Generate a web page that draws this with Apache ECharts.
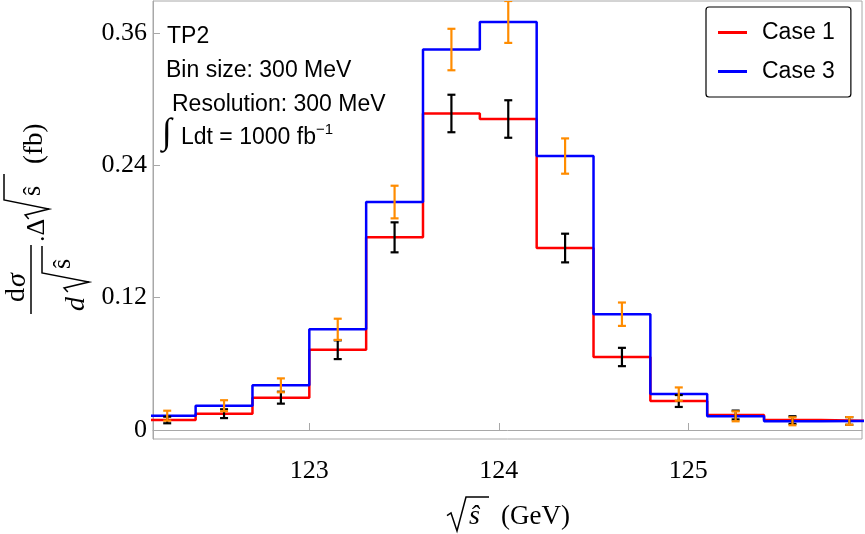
<!DOCTYPE html>
<html lang="en">
<head>
    <meta charset="UTF-8">
    <title>TP2 sqrt(s) distribution</title>
</head>
<body style="margin:0">
<div id="main" style="width: 865px;height:534px;"></div>
<script src="https://cdn.jsdelivr.net/npm/echarts@6/dist/echarts.min.js"></script>
<script>
    // bin edges in GeV (bin size 300 MeV)
    var binEdges = [122.1, 122.4, 122.7, 123.0, 123.3, 123.6, 123.9, 124.2, 124.5, 124.8, 125.1, 125.4, 125.7, 126.0];
    var case1 = [0.0091, 0.0148, 0.0293, 0.0728, 0.1747, 0.287, 0.282, 0.165, 0.0662, 0.0263, 0.0136, 0.0090, 0.0082];
    var case3 = [0.0130, 0.0220, 0.0405, 0.0913, 0.2067, 0.345, 0.370, 0.2484, 0.105, 0.0326, 0.0124, 0.0079, 0.0082];
    var case1Err = [0.003, 0.004, 0.0054, 0.0085, 0.0136, 0.017, 0.017, 0.013, 0.0083, 0.0054, 0.004, 0.0035, 0.0035];
    var case3Err = [0.0045, 0.005, 0.0063, 0.0096, 0.0148, 0.0188, 0.019, 0.016, 0.0106, 0.006, 0.0045, 0.0036, 0.0035];
    var xTicks = [123, 124, 125];
    var yTicks = [0, 0.12, 0.24, 0.36];

    function stepData(vals) {
        var out = [];
        for (var i = 0; i < vals.length; i++) {
            out.push([binEdges[i], vals[i]]);
            out.push([binEdges[i + 1], vals[i]]);
        }
        return out;
    }
    function errData(vals, errs) {
        var out = [];
        for (var i = 0; i < vals.length; i++) {
            var c = (binEdges[i] + binEdges[i + 1]) / 2;
            out.push([c, vals[i] - errs[i], vals[i] + errs[i]]);
        }
        return out;
    }
    function errRender(color) {
        return function (params, api) {
            var lo = api.coord([api.value(0), api.value(1)]);
            var hi = api.coord([api.value(0), api.value(2)]);
            var w = 4;
            var st = {stroke: color, lineWidth: 2.2};
            return {
                type: 'group',
                children: [
                    {type: 'line', shape: {x1: lo[0], y1: lo[1], x2: hi[0], y2: hi[1]}, style: st},
                    {type: 'line', shape: {x1: lo[0] - w, y1: lo[1], x2: lo[0] + w, y2: lo[1]}, style: st},
                    {type: 'line', shape: {x1: hi[0] - w, y1: hi[1], x2: hi[0] + w, y2: hi[1]}, style: st}
                ]
            };
        };
    }
    // radical sign: x0 start, yTop / yBot vertical extent, x1 end of the bar
    function radical(x0, yTop, yBot, x1) {
        var h = yBot - yTop;
        return {
            type: 'polyline',
            shape: {points: [[x0, yTop + h * 0.55], [x0 + 4, yTop + h * 0.47], [x0 + 10, yBot], [x0 + 19, yTop], [x1, yTop]]},
            style: {stroke: '#000', lineWidth: 1.5, fill: null}
        };
    }

    var serif = '"Liberation Serif", "DejaVu Serif", serif';
    var sans = '"Liberation Sans", Arial, sans-serif';
    var gray = '#a8a8a8';

    var myChart = echarts.init(document.getElementById('main'));
    var option = {
        animation: false,
        grid: {left: 153, right: 3, top: 1, bottom: 95, show: true, borderColor: gray, borderWidth: 1},
        xAxis: {
            type: 'value',
            min: 122.175,
            max: 125.917,
            axisLine: {show: true, lineStyle: {color: gray}},
            axisTick: {show: true, inside: true, length: 7, customValues: xTicks, lineStyle: {color: gray}},
            axisLabel: {customValues: xTicks, margin: 19, color: '#000', fontFamily: serif, fontSize: 26},
            splitLine: {show: false}
        },
        yAxis: {
            type: 'value',
            min: -0.00816,
            max: 0.389,
            axisLine: {show: true, lineStyle: {color: gray}},
            axisTick: {show: true, inside: true, length: 7, customValues: yTicks, lineStyle: {color: gray}},
            axisLabel: {
                customValues: yTicks, margin: 6, color: '#000', fontFamily: serif, fontSize: 26,
                formatter: function (v) { return v === 0 ? '0' : v.toFixed(2); }
            },
            splitLine: {show: false}
        },
        legend: {
            data: ['Case 1', 'Case 3'],
            orient: 'vertical',
            left: 706,
            top: 7,
            padding: [14, 16, 14, 12],
            itemGap: 16,
            itemWidth: 29,
            itemHeight: 3,
            icon: 'rect',
            borderColor: '#000',
            borderWidth: 1.2,
            borderRadius: 3,
            textStyle: {fontFamily: sans, fontSize: 23, color: '#000', padding: [0, 0, 0, 10]}
        },
        series: [
            {
                name: 'Case 1', type: 'line', data: stepData(case1), showSymbol: false, symbol: 'none',
                lineStyle: {color: '#ff0000', width: 2.5}, itemStyle: {color: '#ff0000'}, z: 2
            },
            {
                name: 'Case 3', type: 'line', data: stepData(case3), showSymbol: false, symbol: 'none',
                lineStyle: {color: '#0000ff', width: 2.5}, itemStyle: {color: '#0000ff'}, z: 3
            },
            {
                name: 'err1', type: 'custom', data: errData(case1, case1Err), renderItem: errRender('#000000'),
                encode: {x: 0, y: [1, 2]}, clip: true, z: 4
            },
            {
                name: 'err3', type: 'custom', data: errData(case3, case3Err), renderItem: errRender('#ff8c00'),
                encode: {x: 0, y: [1, 2]}, clip: true, z: 5
            }
        ],
        graphic: [
            // annotation block
            {type: 'text', left: 167, top: 25, style: {text: 'TP2', font: '23px ' + sans, fill: '#000'}},
            {type: 'text', left: 166, top: 59, style: {text: 'Bin size: 300 MeV', font: '23px ' + sans, fill: '#000'}},
            {type: 'text', left: 172, top: 93, style: {text: 'Resolution: 300 MeV', font: '23px ' + sans, fill: '#000'}},
            {type: 'text', x: 162, y: 134, style: {text: '∫', font: '36px ' + serif, fill: '#000', verticalAlign: 'middle'}},
            {type: 'text', left: 181, top: 122, style: {
                text: 'Ldt = 1000 fb{sup|−1}', font: '23px ' + sans, fill: '#000',
                rich: {sup: {fontSize: 15, fontFamily: sans, verticalAlign: 'top', padding: [0, 0, 16, 0]}}
            }},
            // x axis title
            radical(447, 497, 531, 489),
            {type: 'text', x: 469, y: 517, style: {text: 'ŝ', font: 'italic 28px ' + serif, fill: '#000', verticalAlign: 'middle'}},
            {type: 'text', x: 501, y: 517, style: {text: '(GeV)', font: '27px ' + serif, fill: '#000', verticalAlign: 'middle'}},
            // y axis title (rotated, local x runs upward on screen)
            {
                type: 'group', x: 31, y: 314, rotation: Math.PI / 2,
                children: [
                    {type: 'line', shape: {x1: 0, y1: 0, x2: 69, y2: 0}, style: {stroke: '#000', lineWidth: 1.5}},
                    {type: 'text', x: 12, y: -14, style: {text: 'd', font: '28px ' + serif, fill: '#000', verticalAlign: 'middle'}},
                    {type: 'text', x: 27, y: -13, style: {text: 'σ', font: 'italic 28px ' + serif, fill: '#000', verticalAlign: 'middle'}},
                    {type: 'text', x: 3, y: 46, style: {text: 'd', font: 'italic 28px ' + serif, fill: '#000', verticalAlign: 'middle'}},
                    radical(22, 11, 58, 68),
                    {type: 'text', x: 45, y: 32, style: {text: 'ŝ', font: '26px ' + serif, fill: '#000', verticalAlign: 'middle'}},
                    {type: 'text', x: 72, y: 6, style: {text: '.Δ', font: '26px ' + serif, fill: '#000', verticalAlign: 'middle'}},
                    radical(95, -27, 18, 140),
                    {type: 'text', x: 118, y: 2, style: {text: 'ŝ', font: '26px ' + serif, fill: '#000', verticalAlign: 'middle'}},
                    {type: 'text', x: 150, y: 4, style: {text: '(fb)', font: '27px ' + serif, fill: '#000', verticalAlign: 'middle'}}
                ]
            }
        ]
    };
    myChart.setOption(option);
</script>
</body>
</html>
